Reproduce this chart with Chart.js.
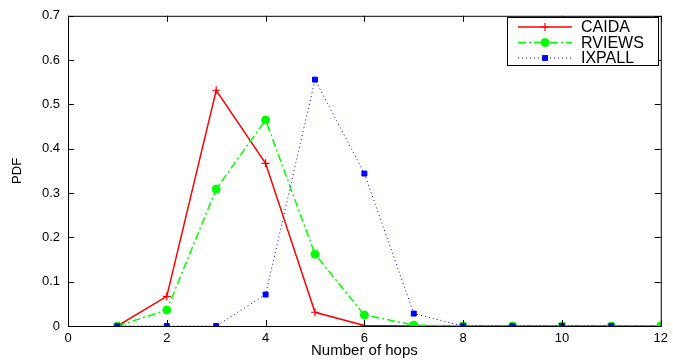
<!DOCTYPE html>
<html>
<head>
<meta charset="utf-8">
<script src="https://cdn.jsdelivr.net/npm/chart.js@4/dist/chart.umd.min.js"></script>
<style>
  html, body { margin: 0; padding: 0; background: #fff; }
  #wrap { width: 673px; height: 360px; }
</style>
</head>
<body>
<div id="wrap"><canvas id="graph01" width="673" height="360"></canvas></div>
<script>
const hops = [1, 2, 3, 4, 5, 6, 7, 8, 9, 10, 11, 12];
const caida  = [0, 0.067, 0.532, 0.367, 0.031, 0.001, 0, 0, 0, 0, 0, 0];
const rviews = [0, 0.036, 0.309, 0.465, 0.162, 0.025, 0.002, 0, 0, 0, 0, 0];
const ixpall = [0, 0, 0, 0.071, 0.556, 0.344, 0.028, 0, 0, 0, 0];
const xTicks = [0, 2, 4, 6, 8, 10, 12];
const yTicks = [0, 0.1, 0.2, 0.3, 0.4, 0.5, 0.6, 0.7];

const FONT = 'Liberation Sans, Arial, sans-serif';

function toPoints(values) {
    return values.map((v, i) => ({ x: hops[i], y: v }));
}

// matlab style box with inward ticks on all four sides
const boxTicks = {
    id: 'boxTicks',
    afterDraw(chart) {
        const { ctx, chartArea: a, scales } = chart;
        ctx.save();
        ctx.strokeStyle = '#000';
        ctx.lineWidth = 1;
        ctx.strokeRect(a.left + 0.5, a.top + 0.5, a.right - a.left, a.bottom - a.top);
        ctx.beginPath();
        xTicks.forEach(t => {
            const px = Math.round(scales.x.getPixelForValue(t)) + 0.5;
            ctx.moveTo(px, a.bottom); ctx.lineTo(px, a.bottom - 6);
            ctx.moveTo(px, a.top); ctx.lineTo(px, a.top + 6);
        });
        yTicks.forEach(t => {
            const py = Math.round(scales.y.getPixelForValue(t)) + 0.5;
            ctx.moveTo(a.left, py); ctx.lineTo(a.left + 6, py);
            ctx.moveTo(a.right, py); ctx.lineTo(a.right - 6, py);
        });
        ctx.stroke();
        ctx.restore();
    }
};

// legend box in the top right corner
const boxLegend = {
    id: 'boxLegend',
    afterDraw(chart) {
        const { ctx } = chart;
        const left = 507, top = 17, w = 151, h = 48;
        ctx.save();
        ctx.fillStyle = '#fff';
        ctx.fillRect(left, top, w, h);
        ctx.strokeStyle = '#000';
        ctx.lineWidth = 1;
        ctx.strokeRect(left + 0.5, top + 0.5, w, h);
        chart.data.datasets.forEach((ds, i) => {
            const y = top + 10 + i * 15.5;
            ctx.strokeStyle = ds.borderColor;
            ctx.fillStyle = ds.backgroundColor;
            ctx.lineWidth = ds.borderWidth;
            ctx.setLineDash(ds.borderDash || []);
            ctx.beginPath();
            ctx.moveTo(left + 11, y);
            ctx.lineTo(left + 65, y);
            ctx.stroke();
            ctx.setLineDash([]);
            ctx.lineWidth = ds.pointBorderWidth || 1;
            Chart.helpers.drawPoint(ctx, {
                pointStyle: ds.pointStyle,
                radius: ds.pointRadius,
                borderWidth: ds.pointBorderWidth || 1
            }, left + 38, y);
            ctx.fillStyle = '#000';
            ctx.font = '16px ' + FONT;
            ctx.textBaseline = 'middle';
            ctx.fillText(ds.label, left + 74, y + 1);
        });
        ctx.restore();
    }
};

new Chart(document.getElementById('graph01'), {
    type: 'line',
    data: {
        datasets: [
            {
                label: 'CAIDA',
                data: toPoints(caida),
                borderColor: '#ff0000',
                backgroundColor: '#ff0000',
                borderWidth: 1.5,
                pointStyle: 'cross',
                pointRadius: 4,
                pointBorderWidth: 1.2,
                order: 3
            },
            {
                label: 'RVIEWS',
                data: toPoints(rviews),
                borderColor: '#00ff00',
                backgroundColor: '#00ff00',
                borderWidth: 1.5,
                borderDash: [8, 3, 2, 3],
                pointStyle: 'circle',
                pointRadius: 4,
                pointBorderWidth: 1,
                order: 2
            },
            {
                label: 'IXPALL',
                data: toPoints(ixpall),
                borderColor: '#0000ff',
                backgroundColor: '#0000ff',
                borderWidth: 1,
                borderDash: [1, 3],
                pointStyle: 'rect',
                pointRadius: 3.5,
                pointBorderWidth: 1,
                order: 1
            }
        ]
    },
    options: {
        responsive: false,
        animation: false,
        layout: { padding: { top: 13, right: 6, left: 0, bottom: 0 } },
        plugins: {
            legend: { display: false },
            tooltip: { enabled: false }
        },
        scales: {
            x: {
                type: 'linear',
                min: 0,
                max: 12,
                grid: { display: false, drawTicks: false },
                border: { display: false },
                ticks: { stepSize: 2, color: '#000', padding: 5, font: { family: FONT, size: 13 } },
                title: {
                    display: true,
                    text: 'Number of hops',
                    color: '#000',
                    font: { family: FONT, size: 15 },
                    padding: { top: 0, bottom: 0 }
                },
                afterFit(scale) { scale.height = 34; }
            },
            y: {
                min: 0,
                max: 0.7,
                grid: { display: false, drawTicks: false },
                border: { display: false },
                ticks: { stepSize: 0.1, color: '#000', padding: 8, font: { family: FONT, size: 13 } },
                title: {
                    display: true,
                    text: 'PDF',
                    color: '#000',
                    font: { family: FONT, size: 13 },
                    padding: { top: 10, bottom: 0 }
                },
                afterFit(scale) { scale.width = 68; }
            }
        }
    },
    plugins: [boxTicks, boxLegend]
});
</script>
</body>
</html>
